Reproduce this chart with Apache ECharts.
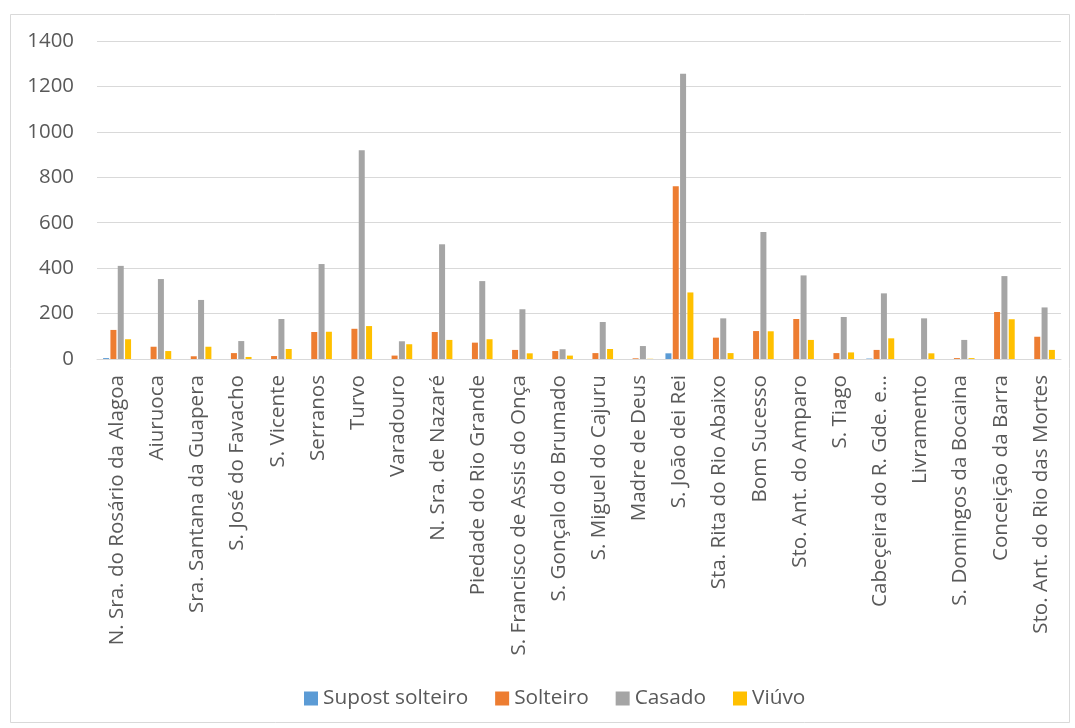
<!DOCTYPE html>
<html>
<head>
<meta charset="utf-8">
<script src="https://cdn.jsdelivr.net/npm/echarts@6/dist/echarts.min.js"></script>
<style>
html,body{margin:0;padding:0;background:#fff;}
#chart{width:1075px;height:728px;}
</style>
</head>
<body>
<div id="chart"></div>
<script>
const categories = [
  "N. Sra. do Rosário da Alagoa", "Aiuruoca", "Sra. Santana da Guapera", "S. José do Favacho",
  "S. Vicente", "Serranos", "Turvo", "Varadouro", "N. Sra. de Nazaré", "Piedade do Rio Grande",
  "S. Francisco de Assis do Onça", "S. Gonçalo do Brumado", "S. Miguel do Cajuru", "Madre de Deus",
  "S. João dei Rei", "Sta. Rita do Rio Abaixo", "Bom Sucesso", "Sto. Ant. do Amparo", "S. Tiago",
  "Cabeçeira do R. Gde. e...", "Livramento", "S. Domingos da Bocaina", "Conceição da Barra",
  "Sto. Ant. do Rio das Mortes"
];
const supostSolteiro = [4, 0, 0, 0, 0, 0, 0, 0, 0, 0, 0, 0, 0, 0, 25, 0, 0, 0, 0, 2, 0, 0, 0, 0];
const solteiro = [128, 54, 12, 26, 13, 119, 133, 15, 119, 72, 40, 35, 26, 3, 761, 94, 123, 176, 26, 40, 0, 4, 207, 98];
const casado = [410, 352, 260, 79, 176, 418, 919, 78, 505, 343, 219, 43, 163, 57, 1256, 179, 559, 368, 185, 289, 179, 84, 365, 227];
const viuvo = [87, 35, 54, 9, 44, 120, 145, 65, 84, 87, 25, 15, 44, 1, 293, 26, 122, 84, 29, 91, 25, 4, 175, 40];
const seriesNames = ["Supost solteiro", "Solteiro", "Casado", "Viúvo"];
const yTicks = [0, 200, 400, 600, 800, 1000, 1200, 1400];

const colors = ["#5B9BD5", "#ED7D31", "#A5A5A5", "#FFC000"];
const dataSets = [supostSolteiro, solteiro, casado, viuvo];
const txt = "#595959";
const font = "'Open Sans', sans-serif";

const chart = echarts.init(document.getElementById('chart'), null, {renderer: 'canvas'});
chart.setOption({
  animation: false,
  backgroundColor: '#fff',
  color: colors,
  textStyle: {fontFamily: font},
  graphic: [{
    type: 'rect', left: 8, top: 12,
    shape: {width: 1059, height: 708},
    style: {fill: 'none', stroke: '#d9d9d9', lineWidth: 1}
  }],
  grid: {left: 97, right: 14, top: 41, bottom: 369, containLabel: false},
  legend: {
    bottom: 14, left: 299,
    itemWidth: 14, itemHeight: 14, itemGap: 27,
    icon: 'rect',
    textStyle: {color: txt, fontSize: 20.8, fontFamily: font},
    data: seriesNames
  },
  xAxis: {
    type: 'category',
    data: categories,
    axisLine: {show: true, lineStyle: {color: '#d9d9d9', width: 1}},
    axisTick: {show: false},
    axisLabel: {rotate: 90, interval: 0, color: txt, fontSize: 20.6, fontFamily: font, margin: 16}
  },
  yAxis: {
    type: 'value',
    min: yTicks[0], max: yTicks[yTicks.length - 1], interval: 200,
    axisLine: {show: false},
    axisTick: {show: false},
    splitLine: {lineStyle: {color: '#d9d9d9', width: 1}},
    axisLabel: {color: txt, fontSize: 20.4, fontFamily: font, margin: 23, formatter: v => String(v)}
  },
  series: seriesNames.map((n, i) => ({
    name: n,
    type: 'bar',
    data: dataSets[i],
    barWidth: 6,
    barGap: '22%',
    itemStyle: {color: colors[i]}
  }))
});
</script>
</body>
</html>
